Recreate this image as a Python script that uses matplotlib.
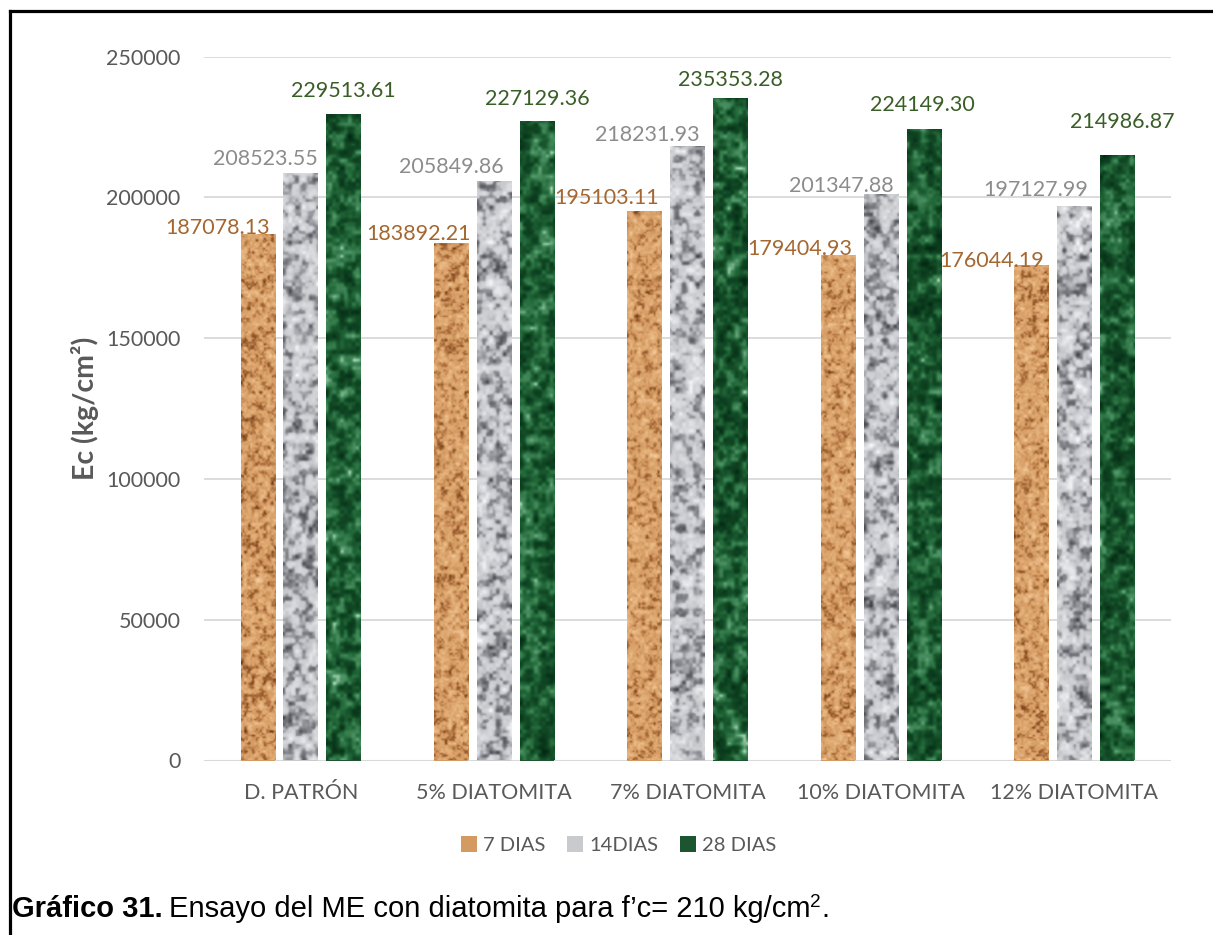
import numpy as np
import matplotlib
matplotlib.use("Agg")
import matplotlib.pyplot as plt
from matplotlib.colors import LinearSegmentedColormap
from matplotlib.patches import Patch
from matplotlib.lines import Line2D

# ---- data ----
categories = ["D. PATRÓN", "5% DIATOMITA", "7% DIATOMITA", "10% DIATOMITA", "12% DIATOMITA"]
series_names = ["7 DIAS", "14DIAS", "28 DIAS"]
dias_7 = [187078.13, 183892.21, 195103.11, 179404.93, 176044.19]
dias_14 = [208523.55, 205849.86, 218231.93, 201347.88, 197127.99]
dias_28 = [229513.61, 227129.36, 235353.28, 224149.30, 214986.87]
y_ticks = [0, 50000, 100000, 150000, 200000, 250000]

# ---- styling ----
label_colors = ["#A5672F", "#8C8C8C", "#3A5E27"]
legend_colors = ["#D39A62", "#C9CACE", "#1D5530"]
texture_stops = [
    [(0.0, "#6A3A18"), (0.25, "#A86B3A"), (0.45, "#D49A62"), (0.7, "#E2AE78"), (1.0, "#F3CB9E")],
    [(0.0, "#3E4046"), (0.3, "#8A8C92"), (0.5, "#C4C6CA"), (0.75, "#DADCDF"), (1.0, "#F7F8FA")],
    [(0.0, "#032812"), (0.4, "#124A26"), (0.6, "#23693A"), (0.85, "#4E9466"), (1.0, "#A5D4B0")],
]
texture_cells = [(4.0, 2.0, 9.0), (7.0, 3.5, 12.0), (8.0, 4.0, 16.0)]
# label anchor offsets in pixels (dx, dy) from the top centre of each bar
label_offsets = [
    [(-40, 0), (-33, 3), (-38, 7), (-38, 0), (-40, -2)],
    [(-35, 8), (-43, 8), (-40, 5), (-40, 2), (-39, 10)],
    [(0, 17), (0, 16), (0, 12), (-1, 18), (5, 27)],
]

FONT = "Lato"
TXT = "#595959"


def hash2(iy, ix, seed):
    v = np.sin(iy * 127.1 + ix * 311.7 + seed * 74.7) * 43758.5453
    return v - np.floor(v)


def value_noise(h, w, cell, seed):
    ys = np.arange(h) / cell
    xs = np.arange(w) / cell
    y0, x0 = np.floor(ys), np.floor(xs)
    fy, fx = ys - y0, xs - x0
    fy = fy * fy * (3 - 2 * fy)
    fx = fx * fx * (3 - 2 * fx)
    Y0, X0 = y0[:, None], x0[None, :]
    FY, FX = fy[:, None], fx[None, :]
    a = hash2(Y0, X0, seed)
    b = hash2(Y0, X0 + 1, seed)
    c = hash2(Y0 + 1, X0, seed)
    d = hash2(Y0 + 1, X0 + 1, seed)
    return (a * (1 - FX) + b * FX) * (1 - FY) + (c * (1 - FX) + d * FX) * FY


def texture(h, w, cells, seed):
    c1, c2, c3 = cells
    n = (0.5 * value_noise(h, w, c1, seed)
         + 0.3 * value_noise(h, w, c2, seed + 11)
         + 0.2 * value_noise(h, w, c3, seed + 23))
    n = (n - n.min()) / (n.max() - n.min() + 1e-9)
    return n


fig = plt.figure(figsize=(12.13, 9.35), dpi=100)
ax = fig.add_axes([204 / 1213, 1 - 760.5 / 935, (1171 - 204) / 1213, (760.5 - 56.7) / 935])

x = np.arange(len(categories))
bar_w = 0.178
step = 0.222
series = [dias_7, dias_14, dias_28]
ymax = 250000

for si, vals in enumerate(series):
    xs = x + (si - 1) * step
    bars = ax.bar(xs, vals, width=bar_w, color=legend_colors[si], zorder=2, linewidth=0)
    cmap = LinearSegmentedColormap.from_list(f"tex{si}", texture_stops[si])
    for bi, (rect, v) in enumerate(zip(bars, vals)):
        hpx = int(v / ymax * 704) + 2
        tex = texture(hpx, 36, texture_cells[si], seed=si * 50 + bi * 7 + 1)
        x0 = rect.get_x()
        im = ax.imshow(tex, cmap=cmap, extent=(x0, x0 + bar_w, 0, v), origin="lower",
                       aspect="auto", interpolation="bilinear", zorder=2.5)
        im.set_clip_path(rect)
        dx, dy = label_offsets[si][bi]
        ax.annotate(f"{v:.2f}", xy=(xs[bi], v), xytext=(dx, dy), textcoords="offset pixels",
                    ha="center", va="baseline", color=label_colors[si], fontsize=15.5,
                    family=FONT, zorder=4)

ax.set_xlim(-0.5, len(categories) - 0.5)
ax.set_ylim(0, ymax)
ax.set_yticks(y_ticks)
ax.set_yticklabels([str(t) for t in y_ticks])
ax.set_xticks(x)
ax.set_xticklabels(categories)
ax.grid(axis="y", color="#D9D9D9", linewidth=1.3, zorder=0)
ax.set_axisbelow(True)
for s in ax.spines.values():
    s.set_visible(False)
ax.axhline(0, color="#D9D9D9", linewidth=1.5, zorder=1)
ax.tick_params(axis="both", length=0, labelsize=15.5, labelcolor=TXT)
ax.tick_params(axis="y", pad=17)
ax.tick_params(axis="x", pad=16)
for lab in ax.get_xticklabels() + ax.get_yticklabels():
    lab.set_family(FONT)

fig.text(85 / 1213, 1 - 408 / 935, "Ec (kg/cm²)", rotation=90, ha="center", va="center",
         fontsize=20.5, fontweight="bold", color=TXT, family=FONT)

handles = [Patch(facecolor=c, edgecolor="none") for c in legend_colors]
fig.legend(handles, series_names, loc="center", bbox_to_anchor=(618.5 / 1213, 1 - 845 / 935), ncol=3,
           frameon=False, handlelength=0.8, handleheight=0.8, handletextpad=0.28,
           columnspacing=1.1, prop={"family": FONT, "size": 14.5}, labelcolor=TXT)

# frame lines
fig.add_artist(Line2D([9.5 / 1213, 9.5 / 1213], [0, 1 - 10.5 / 935], transform=fig.transFigure,
                      color="black", linewidth=2.3, solid_capstyle="projecting"))
fig.add_artist(Line2D([9.5 / 1213, 1], [1 - 10.5 / 935, 1 - 10.5 / 935], transform=fig.transFigure,
                      color="black", linewidth=2.3, solid_capstyle="projecting"))

# caption
cap_y = 1 - 917 / 935
cap_size = 21
t1 = fig.text(12 / 1213, cap_y, "Gráfico 31.", fontsize=cap_size, fontweight="bold",
              family="Liberation Sans", va="baseline", ha="left", color="black")
fig.canvas.draw()
bb = t1.get_window_extent()
t2 = fig.text((bb.x1 + 6) / fig.bbox.width, cap_y, "Ensayo del ME con diatomita para f’c= 210 kg/cm",
              fontsize=cap_size, family="Liberation Sans", va="baseline", ha="left", color="black")
fig.canvas.draw()
bb2 = t2.get_window_extent()
t3 = fig.text(bb2.x1 / fig.bbox.width, cap_y + 10 / 935, "2", fontsize=cap_size * 0.65,
              family="Liberation Sans", va="baseline", ha="left", color="black")
fig.canvas.draw()
bb3 = t3.get_window_extent()
fig.text(bb3.x1 / fig.bbox.width, cap_y, ".", fontsize=cap_size, family="Liberation Sans",
         va="baseline", ha="left", color="black")

fig.savefig("out.png", dpi=100)
